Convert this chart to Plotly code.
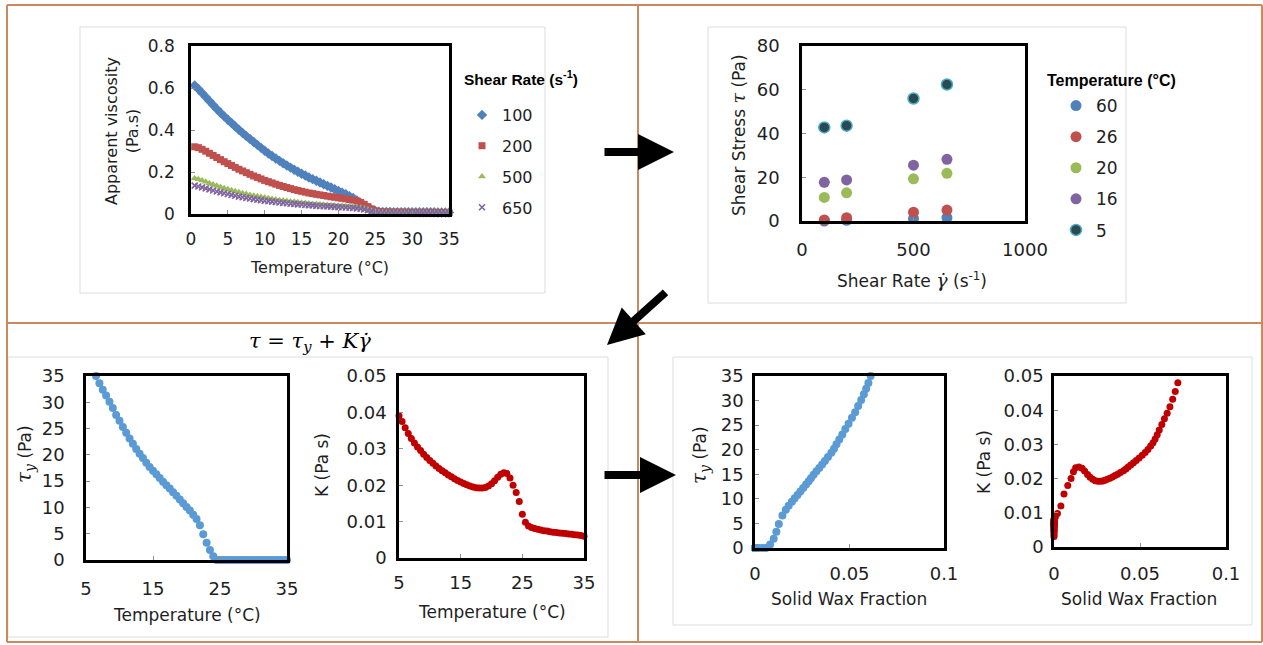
import plotly.graph_objects as go

W, H = 1263, 645

# ---------------- top-left: apparent viscosity vs temperature ----------------
temp_visc = [0.5, 1.0, 1.5, 2.0, 2.5, 3.0, 3.5, 4.0, 4.5, 5.0,
             5.5, 6.0, 6.5, 7.0, 7.5, 8.0, 8.5, 9.0, 9.5, 10.0,
             10.5, 11.0, 11.5, 12.0, 12.5, 13.0, 13.5, 14.0, 14.5, 15.0,
             15.5, 16.0, 16.5, 17.0, 17.5, 18.0, 18.5, 19.0, 19.5, 20.0,
             20.5, 21.0, 21.5, 22.0, 22.5, 23.0, 23.5, 24.0, 24.5, 25.0,
             25.5, 26.0, 26.5, 27.0, 27.5, 28.0, 28.5, 29.0, 29.5, 30.0,
             30.5, 31.0, 31.5, 32.0, 32.5, 33.0, 33.5, 34.0, 34.5, 35.0]
visc_100 = [0.612, 0.595, 0.576, 0.557, 0.538, 0.519, 0.500, 0.482, 0.465, 0.449,
            0.433, 0.417, 0.401, 0.386, 0.371, 0.357, 0.343, 0.329, 0.315, 0.301,
            0.288, 0.276, 0.264, 0.253, 0.242, 0.231, 0.221, 0.211, 0.201, 0.192,
            0.183, 0.174, 0.166, 0.158, 0.150, 0.142, 0.134, 0.126, 0.118, 0.110,
            0.102, 0.094, 0.085, 0.076, 0.065, 0.053, 0.041, 0.030, 0.020, 0.014,
            0.011, 0.010, 0.010, 0.010, 0.009, 0.009, 0.009, 0.009, 0.009, 0.008,
            0.008, 0.008, 0.008, 0.008, 0.008, 0.008, 0.007, 0.007, 0.007, 0.007]
visc_200 = [0.320, 0.316, 0.308, 0.299, 0.289, 0.279, 0.269, 0.259, 0.249, 0.240,
            0.231, 0.222, 0.213, 0.205, 0.197, 0.189, 0.181, 0.174, 0.167, 0.160,
            0.154, 0.148, 0.142, 0.136, 0.131, 0.126, 0.121, 0.116, 0.112, 0.108,
            0.104, 0.100, 0.097, 0.094, 0.091, 0.088, 0.085, 0.082, 0.080, 0.077,
            0.075, 0.072, 0.069, 0.066, 0.062, 0.055, 0.046, 0.035, 0.024, 0.015,
            0.011, 0.009, 0.009, 0.008, 0.008, 0.008, 0.008, 0.008, 0.007, 0.007,
            0.007, 0.007, 0.007, 0.007, 0.007, 0.006, 0.006, 0.006, 0.006, 0.006]
visc_500 = [0.170, 0.165, 0.159, 0.153, 0.147, 0.141, 0.135, 0.129, 0.123, 0.118,
            0.113, 0.108, 0.103, 0.099, 0.095, 0.091, 0.087, 0.084, 0.081, 0.078,
            0.075, 0.072, 0.069, 0.066, 0.064, 0.062, 0.060, 0.058, 0.056, 0.054,
            0.052, 0.050, 0.048, 0.047, 0.045, 0.044, 0.043, 0.041, 0.040, 0.039,
            0.038, 0.037, 0.036, 0.035, 0.033, 0.030, 0.026, 0.021, 0.016, 0.011,
            0.008, 0.007, 0.006, 0.006, 0.006, 0.006, 0.006, 0.006, 0.005, 0.005,
            0.005, 0.005, 0.005, 0.005, 0.005, 0.005, 0.005, 0.005, 0.005, 0.005]
visc_650 = [0.135, 0.131, 0.127, 0.122, 0.117, 0.112, 0.107, 0.103, 0.099, 0.095,
            0.091, 0.087, 0.083, 0.080, 0.077, 0.074, 0.071, 0.068, 0.066, 0.063,
            0.061, 0.059, 0.057, 0.055, 0.053, 0.051, 0.049, 0.048, 0.046, 0.045,
            0.043, 0.042, 0.041, 0.039, 0.038, 0.037, 0.036, 0.035, 0.034, 0.033,
            0.032, 0.031, 0.030, 0.029, 0.027, 0.025, 0.022, 0.018, 0.014, 0.010,
            0.007, 0.006, 0.005, 0.005, 0.005, 0.005, 0.005, 0.005, 0.005, 0.004,
            0.004, 0.004, 0.004, 0.004, 0.004, 0.004, 0.004, 0.004, 0.004, 0.004]
rate_labels = ["100", "200", "500", "650"]

# ---------------- top-right: shear stress vs shear rate ----------------
shear_rate = [100, 200, 500, 650]
stress_60 = [0.0, 0.3, 1.1, 1.5]
stress_26 = [0.5, 1.5, 4.0, 5.0]
stress_20 = [10.8, 12.9, 19.3, 21.8]
stress_16 = [17.7, 18.8, 25.5, 28.2]
stress_5 = [42.8, 43.6, 56.0, 62.4]
temp_labels = ["60", "26", "20", "16", "5"]

# ---------------- bottom: Bingham fit parameters ----------------
temp_fit = [2.5, 3.0, 3.5, 4.0, 4.5, 5.0, 5.5, 6.0,
            6.5, 7.0, 7.5, 8.0, 8.5, 9.0, 9.5, 10.0, 10.5, 11.0,
            11.5, 12.0, 12.5, 13.0, 13.5, 14.0, 14.5, 15.0, 15.5, 16.0,
            16.5, 17.0, 17.5, 18.0, 18.5, 19.0, 19.5, 20.0, 20.5, 21.0,
            21.5, 22.0, 22.5, 23.0, 23.5, 24.0, 24.5,
            25.0, 25.5, 26.0, 26.5, 27.0, 27.5, 28.0, 28.5, 29.0, 29.5,
            30.0, 30.5, 31.0, 31.5, 32.0, 32.5, 33.0, 33.5, 34.0, 34.5, 35.0,
            37.5, 40.0, 42.5, 45.0, 47.5, 50.0, 55.0, 60.0]
tau_y = [None, None, None, None, None, None, None, None,
         35.0, 33.6, 32.4, 31.3, 30.1, 28.9, 27.6, 26.5, 25.3, 24.2,
         23.1, 22.1, 21.1, 20.2, 19.4, 18.5, 17.7, 17.0, 16.3, 15.6,
         14.9, 14.2, 13.6, 12.9, 12.2, 11.5, 10.8, 10.1, 9.4, 8.6,
         7.8, 6.6, 4.9, 3.3, 1.9, 0.7, 0.0,
         0.0, 0.0, 0.0, 0.0, 0.0, 0.0, 0.0, 0.0, 0.0, 0.0,
         0.0, 0.0, 0.0, 0.0, 0.0, 0.0, 0.0, 0.0, 0.0, 0.0, 0.0,
         0.0, 0.0, 0.0, 0.0, 0.0, 0.0, 0.0, 0.0]
k_fit = [0.0505, 0.0480, 0.0455, 0.0432, 0.0410, 0.0391, 0.0375, 0.0358,
         0.0342, 0.0328, 0.0316, 0.0305, 0.0295, 0.0285, 0.0276, 0.0268, 0.0260, 0.0253,
         0.0246, 0.0240, 0.0234, 0.0228, 0.0223, 0.0218, 0.0213, 0.0209, 0.0205, 0.0201,
         0.0198, 0.0195, 0.0193, 0.0192, 0.0192, 0.0194, 0.0198, 0.0204, 0.0212, 0.0222,
         0.0230, 0.0234, 0.0232, 0.0220, 0.0200, 0.0180, 0.0155,
         0.0120, 0.0098, 0.0088, 0.0084, 0.0081, 0.0079, 0.0077, 0.0075, 0.0074, 0.0072,
         0.0071, 0.0070, 0.0069, 0.0068, 0.0067, 0.0066, 0.0065, 0.0064, 0.0063, 0.0062, 0.0060,
         0.0057, 0.0054, 0.0051, 0.0048, 0.0045, 0.0042, 0.0036, 0.0031]
wax_frac = [0.0735, 0.0720, 0.0705, 0.0690, 0.0674, 0.0658, 0.0642, 0.0627,
            0.0612, 0.0600, 0.0588, 0.0576, 0.0562, 0.0546, 0.0530, 0.0513, 0.0495, 0.0478,
            0.0462, 0.0446, 0.0431, 0.0418, 0.0404, 0.0386, 0.0370, 0.0355, 0.0340, 0.0325,
            0.0310, 0.0296, 0.0284, 0.0270, 0.0255, 0.0240, 0.0225, 0.0210, 0.0195, 0.0178,
            0.0163, 0.0145, 0.0126, 0.0113, 0.0099, 0.0080, 0.0058,
            0.0040, 0.0020, 0.0008, 0.0003, 0.0, 0.0, 0.0, 0.0, 0.0, 0.0,
            0.0, 0.0, 0.0, 0.0, 0.0, 0.0, 0.0, 0.0, 0.0, 0.0, 0.0,
            0.0, 0.0, 0.0, 0.0, 0.0, 0.0, 0.0, 0.0]

# ---------------- styling ----------------
FONT = "DejaVu Sans"
TXT = "#1e1e1e"
SERIF = "DejaVu Serif"
BORDER = "#CB8A5E"
FRAME = "#DDDDDD"
C_BLUE, C_RED, C_GREEN, C_PURPLE = "#4F81BD", "#C0504D", "#9BBB59", "#8064A2"
C_DARK, C_CYAN = "#2B4950", "#4BACC6"
C_FIT_BLUE, C_FIT_RED = "#5B9BD5", "#C00000"


def px(x):
    return x / W


def py(y):
    return 1 - y / H


def in_box(xs, ys, xr, yr):
    ox, oy = [], []
    for a, b in zip(xs, ys):
        if a is None or b is None:
            continue
        if xr[0] <= a <= xr[1] and yr[0] <= b <= yr[1]:
            ox.append(a)
            oy.append(b)
    return ox, oy


fig = go.Figure()

# chart 1 traces
sym1 = [("diamond", 8, C_BLUE), ("square", 7, C_RED), ("triangle-up", 7, C_GREEN), ("x-thin", 6, C_PURPLE)]
for lab, vals, (sym, sz, col) in zip(rate_labels, [visc_100, visc_200, visc_500, visc_650], sym1):
    marker = dict(symbol=sym, size=sz, color=col, line=dict(width=0))
    if sym == "x-thin":
        marker = dict(symbol=sym, size=sz, color=col, line=dict(width=1.6, color=col))
    fig.add_trace(go.Scatter(x=temp_visc, y=vals, mode="markers", name=lab, marker=marker,
                             xaxis="x", yaxis="y", legend="legend", legendgroup="v" + lab,
                             cliponaxis=False))

# chart 2 traces
cols2 = [C_BLUE, C_RED, C_GREEN, C_PURPLE, C_DARK]
for lab, vals, col in zip(temp_labels, [stress_60, stress_26, stress_20, stress_16, stress_5], cols2):
    line = dict(width=1.5, color=C_CYAN) if lab == "5" else dict(width=0)
    fig.add_trace(go.Scatter(x=shear_rate, y=vals, mode="markers", name=lab,
                             marker=dict(symbol="circle", size=11, color=col, line=line),
                             xaxis="x2", yaxis="y2", legend="legend2", legendgroup="t" + lab,
                             cliponaxis=False))

# chart 3..6
x3, y3 = in_box(temp_fit, tau_y, (5, 35), (0, 35))
fig.add_trace(go.Scatter(x=x3, y=y3, mode="markers", marker=dict(size=8, color=C_FIT_BLUE),
                         xaxis="x3", yaxis="y3", showlegend=False, cliponaxis=False))
x4, y4 = in_box(temp_fit, k_fit, (5, 35), (0, 0.05))
fig.add_trace(go.Scatter(x=x4, y=y4, mode="markers", marker=dict(size=7, color=C_FIT_RED),
                         xaxis="x4", yaxis="y4", showlegend=False, cliponaxis=False))
x5, y5 = in_box(wax_frac, tau_y, (0, 0.1), (0, 35))
fig.add_trace(go.Scatter(x=x5, y=y5, mode="markers", marker=dict(size=8, color=C_FIT_BLUE),
                         xaxis="x5", yaxis="y5", showlegend=False, cliponaxis=False))
x6, y6 = in_box(wax_frac, k_fit, (0, 0.1), (0, 0.05))
fig.add_trace(go.Scatter(x=x6, y=y6, mode="markers", marker=dict(size=7, color=C_FIT_RED),
                         xaxis="x6", yaxis="y6", showlegend=False, cliponaxis=False))


def ax_style(rng, dtick, tick0, standoff, size, dom, anchor):
    return dict(range=rng, dtick=dtick, tick0=tick0, domain=dom, anchor=anchor,
                showline=True, linecolor="black", linewidth=2.5, mirror=True,
                ticks="inside", ticklen=4, tickcolor="#909090", tickwidth=1,
                showgrid=False, zeroline=False, fixedrange=True, automargin=False,
                tickfont=dict(family=FONT, size=size, color=TXT),
                ticklabelstandoff=standoff)


boxes = {  # plot areas in pixels: x0, x1, y0(top), y1(bottom)
    1: (191, 449, 46, 214),
    2: (802, 1025, 46, 221),
    3: (86, 287, 376, 560),
    4: (399, 584, 376, 558),
    5: (755, 944, 376, 548),
    6: (1054, 1226, 376, 547),
}


def xd(i):
    b = boxes[i]
    return [px(b[0]), px(b[1])]


def yd(i):
    b = boxes[i]
    return [py(b[3]), py(b[2])]


layout = dict(
    width=W, height=H, margin=dict(l=0, r=0, t=0, b=0, pad=0, autoexpand=False),
    paper_bgcolor="white", plot_bgcolor="white",
    font=dict(family=FONT, color=TXT),
    xaxis=ax_style([0, 35], 5, 0, 8, 17, xd(1), "y"),
    yaxis=ax_style([0, 0.8], 0.2, 0, 10, 17, yd(1), "x"),
    xaxis2=ax_style([0, 1000], 500, 0, 11, 18, xd(2), "y2"),
    yaxis2=ax_style([0, 80], 20, 0, 16, 18, yd(2), "x2"),
    xaxis3=ax_style([5, 35], 10, 5, 11, 18, xd(3), "y3"),
    yaxis3=ax_style([0, 35], 5, 0, 15, 18, yd(3), "x3"),
    xaxis4=ax_style([5, 35], 10, 5, 7, 18, xd(4), "y4"),
    yaxis4=ax_style([0, 0.05], 0.01, 0, 6, 18, yd(4), "x4"),
    xaxis5=ax_style([0, 0.1], 0.05, 0, 8, 18, xd(5), "y5"),
    yaxis5=ax_style([0, 35], 5, 0, 5, 18, yd(5), "x5"),
    xaxis6=ax_style([0, 0.1], 0.05, 0, 9, 18, xd(6), "y6"),
    yaxis6=ax_style([0, 0.05], 0.01, 0, 4, 18, yd(6), "x6"),
    legend=dict(x=px(462), y=py(98), xanchor="left", yanchor="top",
                font=dict(family=FONT, size=16, color=TXT), bgcolor="rgba(0,0,0,0)",
                tracegroupgap=7, itemclick=False, itemdoubleclick=False),
    legend2=dict(x=px(1056), y=py(88), xanchor="left", yanchor="top",
                 font=dict(family=FONT, size=17, color=TXT), bgcolor="rgba(0,0,0,0)",
                 tracegroupgap=6, itemclick=False, itemdoubleclick=False),
    showlegend=True,
)
fig.update_layout(**layout)

# ---------------- text annotations ----------------
def note(text, x, y, size=17, angle=0, family=FONT, xanchor="center", color=TXT):
    fig.add_annotation(text=text, x=px(x), y=py(y), xref="paper", yref="paper",
                       showarrow=False, textangle=angle, xanchor=xanchor, yanchor="middle",
                       font=dict(family=family, size=size, color=color))


tau_span = '<span style="font-family:DejaVu Serif;font-size:20px"><i>τ</i><sub><i>y</i></sub></span>'
note("Apparent viscosity<br>(Pa.s)", 122, 131, size=16, angle=-90)
note("Temperature (°C)", 320, 268, size=16)
note('Shear Stress <span style="font-family:DejaVu Serif;font-size:19px"><i>τ</i></span> (Pa)', 738, 135, angle=-90)
note('Shear Rate <span style="font-family:DejaVu Serif;font-size:19px"><i>γ̇</i></span> (s<sup>-1</sup>)', 912, 280)
note(tau_span + " (Pa)", 25, 454, angle=-90)
note("Temperature (°C)", 187, 615)
note("K (Pa s)", 322, 465, angle=-90)
note("Temperature (°C)", 492, 612)
note(tau_span + " (Pa)", 700, 455, angle=-90)
note("Solid Wax Fraction", 849, 599)
note("K (Pa s)", 984, 462, angle=-90)
note("Solid Wax Fraction", 1139, 599)
note("<b>Shear Rate (s<sup>-1</sup>)</b>", 462, 78, size=15.5, family="Liberation Sans", xanchor="left", color="black")
note("<b>Temperature (°C)</b>", 1045, 80, size=16, family="Liberation Sans", xanchor="left", color="black")
note("<i>τ</i> = <i>τ</i><sub><i>y</i></sub> + <i>K</i><i>γ̇</i>", 310, 342, size=21, family=SERIF, color="black")

# ---------------- arrows ----------------
def arrow(tail, tip):
    fig.add_annotation(x=px(tip[0]), y=py(tip[1]), xref="paper", yref="paper",
                       ax=tail[0] - tip[0], ay=tail[1] - tip[1], axref="pixel", ayref="pixel",
                       text="", showarrow=True, arrowhead=2, arrowsize=0.9, arrowwidth=8,
                       arrowcolor="black")


arrow((603, 152), (674, 152))
arrow((667, 291), (607, 345))
arrow((603, 475), (676, 475))

# ---------------- frames and panel borders ----------------
def rect(x0, y0, x1, y1, color, width):
    fig.add_shape(type="rect", xref="paper", yref="paper", x0=px(x0), x1=px(x1),
                  y0=py(y1), y1=py(y0), line=dict(color=color, width=width), layer="below")


def hline(x0, x1, y, color, width):
    fig.add_shape(type="line", xref="paper", yref="paper", x0=px(x0), x1=px(x1),
                  y0=py(y), y1=py(y), line=dict(color=color, width=width), layer="below")


def vline(x, y0, y1, color, width):
    fig.add_shape(type="line", xref="paper", yref="paper", x0=px(x), x1=px(x),
                  y0=py(y0), y1=py(y1), line=dict(color=color, width=width), layer="below")


rect(80, 27, 545, 293, FRAME, 1)
rect(708, 27, 1126, 303, FRAME, 1)
rect(8, 357, 608, 637, FRAME, 1)
rect(673, 357, 1252, 625, FRAME, 1)

hline(7, 1262, 5, BORDER, 2)
hline(7, 1262, 323, BORDER, 2)
hline(7, 1262, 642, BORDER, 2)
vline(7, 5, 642, BORDER, 2)
vline(638, 5, 642, BORDER, 2)
vline(1262, 5, 642, BORDER, 2)

fig.write_html("out.html", post_script="document.body.style.margin='0';document.body.style.overflow='hidden';")
